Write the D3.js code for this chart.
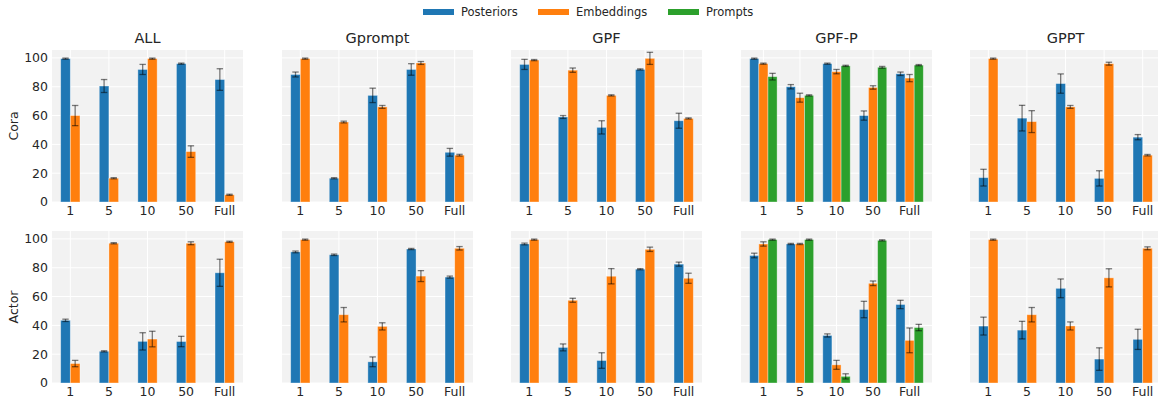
<!DOCTYPE html>
<html>
<head>
<meta charset="utf-8">
<script src="https://cdn.jsdelivr.net/npm/d3@7"></script>
<style>
  html, body { margin: 0; padding: 0; background: #fff; }
  svg { display: block; font-family: "DejaVu Sans", sans-serif; }
</style>
</head>
<body>
<svg id="chart" width="1158" height="403"></svg>
<script>
// Shot settings along the x axis of every panel
const shots = ["1", "5", "10", "50", "Full"];
const seriesNames = ["Posteriors", "Embeddings", "Prompts"];
const seriesColors = ["#1f77b4", "#ff7f0e", "#2ca02c"];
const methods = ["ALL", "Gprompt", "GPF", "GPF-P", "GPPT"];
const datasets = ["Cora", "Actor"];
const yTicks = [0, 20, 40, 60, 80, 100];

// Cora: mean and std per method, one row per series
const coraALLMean     = [[99.5, 80.5, 92.0, 96.0, 85.0], [60.0, 16.5, 99.5, 35.0, 5.0]];
const coraALLErr      = [[0.4, 4.5, 3.5, 0.4, 7.5], [7.0, 0.4, 0.4, 4.0, 0.4]];
const coraGpromptMean = [[88.5, 16.5, 74.0, 92.0, 34.5], [99.5, 55.5, 66.0, 96.5, 32.5]];
const coraGpromptErr  = [[1.7, 0.4, 5.0, 4.0, 2.7], [0.4, 0.6, 1.0, 1.0, 0.6]];
const coraGPFMean     = [[95.5, 59.0, 51.8, 92.0, 56.4], [98.5, 91.5, 74.0, 99.7, 58.0]];
const coraGPFErr      = [[3.5, 1.0, 4.6, 0.4, 5.2], [0.4, 1.5, 0.4, 4.2, 0.4]];
const coraGPFPMean    = [[99.5, 80.0, 96.0, 60.0, 89.0], [96.0, 72.4, 90.5, 79.5, 86.0], [87.0, 74.0, 94.5, 93.5, 95.0]];
const coraGPFPErr     = [[0.4, 1.5, 0.4, 3.2, 1.2], [0.4, 3.1, 1.5, 1.2, 2.5], [2.3, 0.4, 0.4, 0.6, 0.4]];
const coraGPPTMean    = [[16.9, 58.2, 82.2, 16.4, 45.0], [99.5, 55.8, 66.0, 96.0, 32.5]];
const coraGPPTErr     = [[5.8, 8.9, 6.7, 5.3, 1.8], [0.4, 7.6, 1.0, 1.0, 0.5]];

// Actor: mean and std per method, one row per series
const actorALLMean     = [[43.5, 22.0, 28.9, 28.8, 76.5], [13.5, 97.0, 30.5, 97.0, 98.0]];
const actorALLErr      = [[0.8, 0.4, 6.0, 3.6, 9.4], [2.2, 0.4, 5.4, 1.0, 0.4]];
const actorGpromptMean = [[91.0, 89.0, 14.7, 93.0, 73.5], [99.5, 47.4, 39.3, 74.2, 93.5]];
const actorGpromptErr  = [[0.6, 0.5, 3.4, 0.4, 0.7], [0.4, 5.0, 2.5, 3.8, 1.2]];
const actorGPFMean     = [[96.5, 24.7, 15.6, 79.0, 82.5], [99.5, 57.4, 74.1, 92.8, 72.7]];
const actorGPFErr      = [[0.6, 2.4, 5.4, 0.4, 1.4], [0.4, 1.4, 5.3, 1.5, 3.5]];
const actorGPFPMean    = [[88.5, 96.5, 33.0, 51.0, 54.5], [96.5, 96.5, 12.6, 69.2, 29.6], [99.5, 99.5, 4.6, 99.0, 38.5]];
const actorGPFPErr     = [[1.6, 0.4, 1.1, 5.7, 2.9], [1.5, 0.4, 3.1, 1.6, 8.6], [0.4, 0.4, 1.8, 0.4, 2.2]];
const actorGPPTMean    = [[39.5, 36.7, 65.7, 16.6, 30.3], [99.5, 47.4, 39.6, 73.0, 93.5]];
const actorGPPTErr     = [[6.2, 6.1, 6.5, 7.8, 7.0], [0.4, 5.0, 2.8, 6.3, 1.0]];

const panels = [
  [[coraALLMean, coraALLErr], [coraGpromptMean, coraGpromptErr], [coraGPFMean, coraGPFErr], [coraGPFPMean, coraGPFPErr], [coraGPPTMean, coraGPPTErr]],
  [[actorALLMean, actorALLErr], [actorGpromptMean, actorGpromptErr], [actorGPFMean, actorGPFErr], [actorGPFPMean, actorGPFPErr], [actorGPPTMean, actorGPPTErr]]
];

// Layout of the 2 x 5 grid of axes
const colLeft = [52, 282, 511, 741, 970];
const axW = 191;
const rowTop = [50, 231];
const axH = 152;
const yMax = 105.5;
const barW = 0.25;
const textColor = "#262626";

const svg = d3.select("#chart");

function drawPanel(row, col) {
  const [means, errs] = panels[row][col];
  const nS = means.length;
  const offsets = d3.range(nS).map(i => (i - (nS - 1) / 2) * barW);
  const lo = offsets[0] - barW / 2;
  const hi = (shots.length - 1) + offsets[nS - 1] + barW / 2;
  const pad = 0.05 * (hi - lo);

  const x = d3.scaleLinear().domain([lo - pad, hi + pad]).range([0, axW]);
  const y = d3.scaleLinear().domain([0, yMax]).range([axH, 0]);

  const g = svg.append("g").attr("transform", `translate(${colLeft[col]},${rowTop[row]})`);

  g.append("rect").attr("width", axW).attr("height", axH).attr("fill", "#f2f2f2");

  // grid
  g.selectAll("line.hgrid").data(yTicks).join("line")
    .attr("x1", 0).attr("x2", axW)
    .attr("y1", d => y(d)).attr("y2", d => y(d))
    .attr("stroke", "#ffffff").attr("stroke-width", 1);
  g.selectAll("line.vgrid").data(shots).join("line")
    .attr("x1", (d, i) => x(i)).attr("x2", (d, i) => x(i))
    .attr("y1", 0).attr("y2", axH)
    .attr("stroke", "#ffffff").attr("stroke-width", 1);

  // bars
  means.forEach((vals, s) => {
    g.append("g").selectAll("rect").data(vals).join("rect")
      .attr("x", (d, i) => x(i + offsets[s] - barW / 2))
      .attr("width", x(barW) - x(0))
      .attr("y", d => y(d))
      .attr("height", d => y(0) - y(d))
      .attr("fill", seriesColors[s])
      .attr("stroke", "rgba(255,255,255,0.45)")
      .attr("stroke-width", 0.8);
  });

  // error bars
  means.forEach((vals, s) => {
    const eg = g.append("g").attr("stroke", "rgba(0,0,0,0.5)").attr("stroke-width", 1.3);
    vals.forEach((m, i) => {
      const e = errs[s][i];
      const cx = x(i + offsets[s]);
      eg.append("line").attr("x1", cx).attr("x2", cx).attr("y1", y(m - e)).attr("y2", y(m + e));
      eg.append("line").attr("x1", cx - 3.2).attr("x2", cx + 3.2).attr("y1", y(m - e)).attr("y2", y(m - e));
      eg.append("line").attr("x1", cx - 3.2).attr("x2", cx + 3.2).attr("y1", y(m + e)).attr("y2", y(m + e));
    });
  });

  // x tick labels
  g.selectAll("text.xt").data(shots).join("text")
    .attr("x", (d, i) => x(i)).attr("y", axH + 13)
    .attr("text-anchor", "middle")
    .attr("font-size", 12.5).attr("fill", textColor)
    .text(d => d);

  // y tick labels and dataset name on the first column
  if (col === 0) {
    g.selectAll("text.yt").data(yTicks).join("text")
      .attr("x", -4).attr("y", d => y(d)).attr("dy", "0.35em")
      .attr("text-anchor", "end")
      .attr("font-size", 12.5).attr("fill", textColor)
      .text(d => d);
    g.append("text")
      .attr("transform", `translate(-38,${axH / 2}) rotate(-90)`)
      .attr("text-anchor", "middle").attr("dy", "0.35em")
      .attr("font-size", 12.5).attr("fill", textColor)
      .text(datasets[row]);
  }

  // method title on the first row
  if (row === 0) {
    g.append("text")
      .attr("x", axW / 2).attr("y", -7)
      .attr("text-anchor", "middle")
      .attr("font-size", 14.5).attr("fill", textColor)
      .text(methods[col]);
  }
}

for (let r = 0; r < 2; r++) for (let c = 0; c < 5; c++) drawPanel(r, c);

// legend
const legendX = [423, 538, 668];
const legend = svg.append("g");
seriesNames.forEach((name, i) => {
  legend.append("rect")
    .attr("x", legendX[i]).attr("y", 9).attr("width", 31).attr("height", 6)
    .attr("fill", seriesColors[i]);
  legend.append("text")
    .attr("x", legendX[i] + 38).attr("y", 12).attr("dy", "0.35em")
    .attr("font-size", 11.5).attr("fill", textColor)
    .text(name);
});
</script>
</body>
</html>
